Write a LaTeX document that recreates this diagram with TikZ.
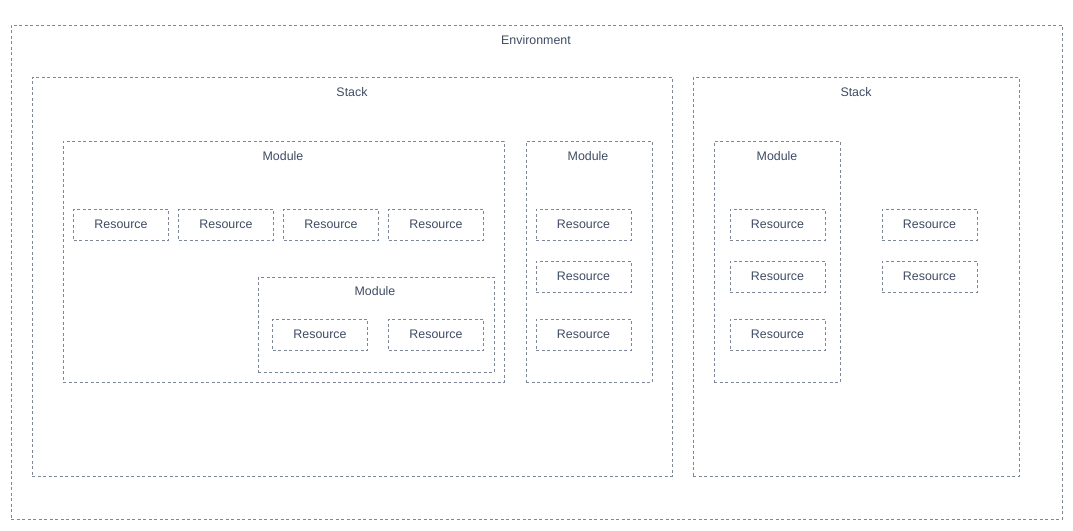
\documentclass[tikz,border=0pt]{standalone}
\usepackage{fontspec}
\setmainfont{Liberation Sans}
\definecolor{linec}{HTML}{7E8797}
\definecolor{textc}{HTML}{3E4B63}
\tikzset{
  box/.style={draw=linec, line width=0.8pt, dash pattern=on 3pt off 2.5pt, rectangle, inner sep=0pt},
  res/.style={box, minimum width=95pt, minimum height=31pt, text=textc, font=\fontsize{12.4}{14}\selectfont},
  lbl/.style={text=textc, font=\fontsize{12.4}{14}\selectfont, inner sep=0pt}
}
\begin{document}
\begin{tikzpicture}[x=1pt, y=-1pt]
\useasboundingbox (0,0) rectangle (1073,530);
% containers
\node[box, minimum width=1051pt, minimum height=494pt] (env) at (536.5,272) {};
\node[lbl] (envl) at (536,40) {Environment};
\node[box, minimum width=640pt, minimum height=399pt] (st1) at (352,276.5) {};
\node[lbl] (st1l) at (352,92) {Stack};
\node[box, minimum width=326pt, minimum height=399pt] (st2) at (856,276.5) {};
\node[lbl] (st2l) at (856,92) {Stack};
\node[box, minimum width=441pt, minimum height=241pt] (m1) at (283.5,261.5) {};
\node[lbl] (m1l) at (283,156) {Module};
\node[box, minimum width=126pt, minimum height=241pt] (m2) at (589,261.5) {};
\node[lbl] (m2l) at (588,156) {Module};
\node[box, minimum width=126pt, minimum height=241pt] (m3) at (777,261.5) {};
\node[lbl] (m3l) at (777,156) {Module};
\node[box, minimum width=236pt, minimum height=95pt] (m4) at (376,324.5) {};
\node[lbl] (m4l) at (375,291) {Module};
% resources
\node[res] (r1) at (121,224.5) {Resource};
\node[res] (r2) at (226,224.5) {Resource};
\node[res] (r3) at (331,224.5) {Resource};
\node[res] (r4) at (436,224.5) {Resource};
\node[res] (r5) at (320,334.5) {Resource};
\node[res] (r6) at (436,334.5) {Resource};
\node[res] (r7) at (583.5,224.5) {Resource};
\node[res] (r8) at (583.5,276.5) {Resource};
\node[res] (r9) at (583.5,334.5) {Resource};
\node[res] (r10) at (777.5,224.5) {Resource};
\node[res] (r11) at (777.5,276.5) {Resource};
\node[res] (r12) at (777.5,334.5) {Resource};
\node[res] (r13) at (929.5,224.5) {Resource};
\node[res] (r14) at (929.5,276.5) {Resource};
\end{tikzpicture}
\end{document}
